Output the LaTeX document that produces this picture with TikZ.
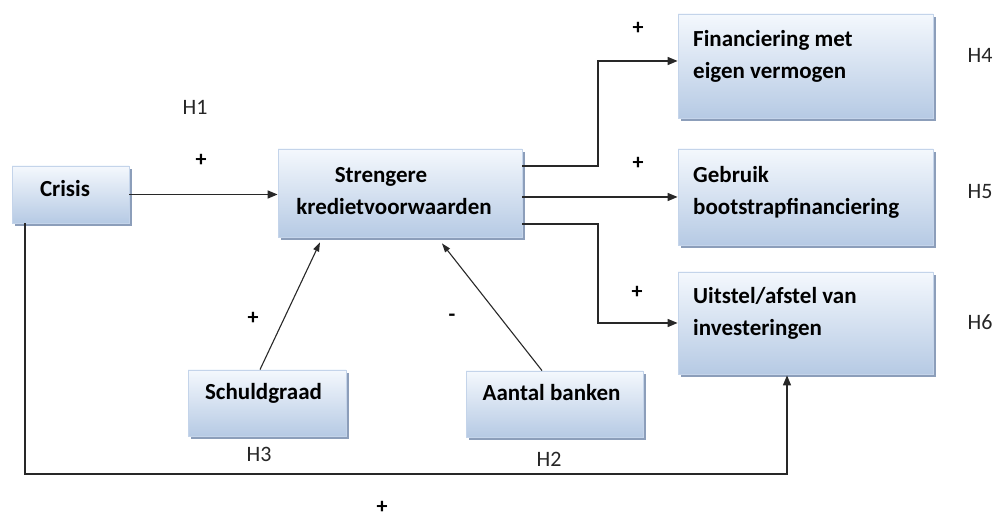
\documentclass[tikz,border=0pt]{standalone}
\usepackage{fontspec}
\setmainfont{Carlito}
\usetikzlibrary{arrows.meta,shadows}
\definecolor{boxtop}{RGB}{244,248,253}
\definecolor{boxbot}{RGB}{182,202,228}
\definecolor{boxline}{RGB}{196,212,234}
\definecolor{shadowc}{RGB}{140,158,186}
\definecolor{linec}{RGB}{40,40,40}
\tikzset{
  box/.style={rectangle, draw=boxline, line width=0.8pt, top color=boxtop, bottom color=boxbot,
    drop shadow={shadow xshift=2.5pt, shadow yshift=-3.5pt, fill=shadowc, opacity=1},
    inner sep=0pt},
  boxtext/.style={font=\bfseries\fontsize{23}{32}\selectfont, inner sep=0pt, text=black},
  lbl/.style={font=\fontsize{22}{26}\selectfont, inner sep=0pt, text=black!85},
  sign/.style={font=\bfseries\fontsize{22}{26}\selectfont, inner sep=0pt, text=black},
  conn/.style={draw=linec, line width=1.5pt, -{Triangle[length=10pt,width=8pt]}},
  thinconn/.style={draw=linec, line width=1.1pt, -{Triangle[length=9pt,width=6pt]}}
}
\begin{document}
\begin{tikzpicture}[x=1pt,y=1pt]
\useasboundingbox (0,0) rectangle (999,518);
% boxes
\node[box, minimum width=117pt, minimum height=57pt] (crisis) at (70.5,323.5) {};
\node[box, minimum width=244pt, minimum height=88pt] (streng) at (400,325) {};
\node[box, minimum width=255pt, minimum height=104pt] (fin) at (805.5,452) {};
\node[box, minimum width=255pt, minimum height=96pt] (geb) at (805.5,321) {};
\node[box, minimum width=255pt, minimum height=102pt] (uit) at (805.5,195) {};
\node[box, minimum width=158pt, minimum height=66pt] (schuld) at (267,115) {};
\node[box, minimum width=177pt, minimum height=66pt] (aantal) at (554.5,114) {};
% box texts
\node[boxtext] (tcrisis) at (65,329) {Crisis};
\node[boxtext, align=center] (tstreng) at (394,326.5) {Strengere\hspace*{26pt}\\kredietvoorwaarden};
\node[boxtext, align=left, anchor=west] (tfin) at (693,462) {Financiering met\\eigen vermogen};
\node[boxtext, align=left, anchor=west] (tgeb) at (693,325.5) {Gebruik\\bootstrapfinanciering};
\node[boxtext, align=left, anchor=west] (tuit) at (693,204.5) {Uitstel/afstel van\\investeringen};
\node[boxtext] (tschuld) at (263.5,125) {Schuldgraad};
\node[boxtext] (taantal) at (551.5,125) {Aantal banken};
% connectors
\draw[conn] (crisis.east) -- (crisis.east -| streng.west);
\coordinate (fa) at (598,352);
\coordinate (fb) at (598,294);
\draw[conn] (streng.east |- fa) -- (fa) |- ([yshift=5pt]fin.west);
\draw[conn] (streng.east |- geb.west) -- (geb.west);
\draw[conn] (streng.east |- fb) -- (fb) |- (uit.west);
\draw[thinconn] ([xshift=-7pt]schuld.north) -- ([xshift=-80pt,yshift=-5pt]streng.south);
\draw[thinconn] ([xshift=-12.5pt]aantal.north) -- ([xshift=42pt,yshift=-6pt]streng.south);
\coordinate (low) at (25,44);
\draw[conn] (crisis.south -| low) -- (low) -| ([xshift=-18.5pt,yshift=-1pt]uit.south);
% labels
\node[lbl] (h1) at (195,411) {H1};
\node[sign] (p1) at (201,358) {+};
\node[sign] (p4) at (638,490) {+};
\node[sign] (p5) at (638,355) {+};
\node[sign] (p6) at (637,226) {+};
\node[lbl] (h4) at (980,463) {H4};
\node[lbl] (h5) at (980,326) {H5};
\node[lbl] (h6) at (980,196) {H6};
\node[sign] (p3) at (253,200) {+};
\node[sign] (m2) at (452,200) {-};
\node[lbl] (h3) at (259,64) {H3};
\node[lbl] (h2) at (549,59) {H2};
\node[sign] (p7) at (382,11) {+};
\end{tikzpicture}
\end{document}
